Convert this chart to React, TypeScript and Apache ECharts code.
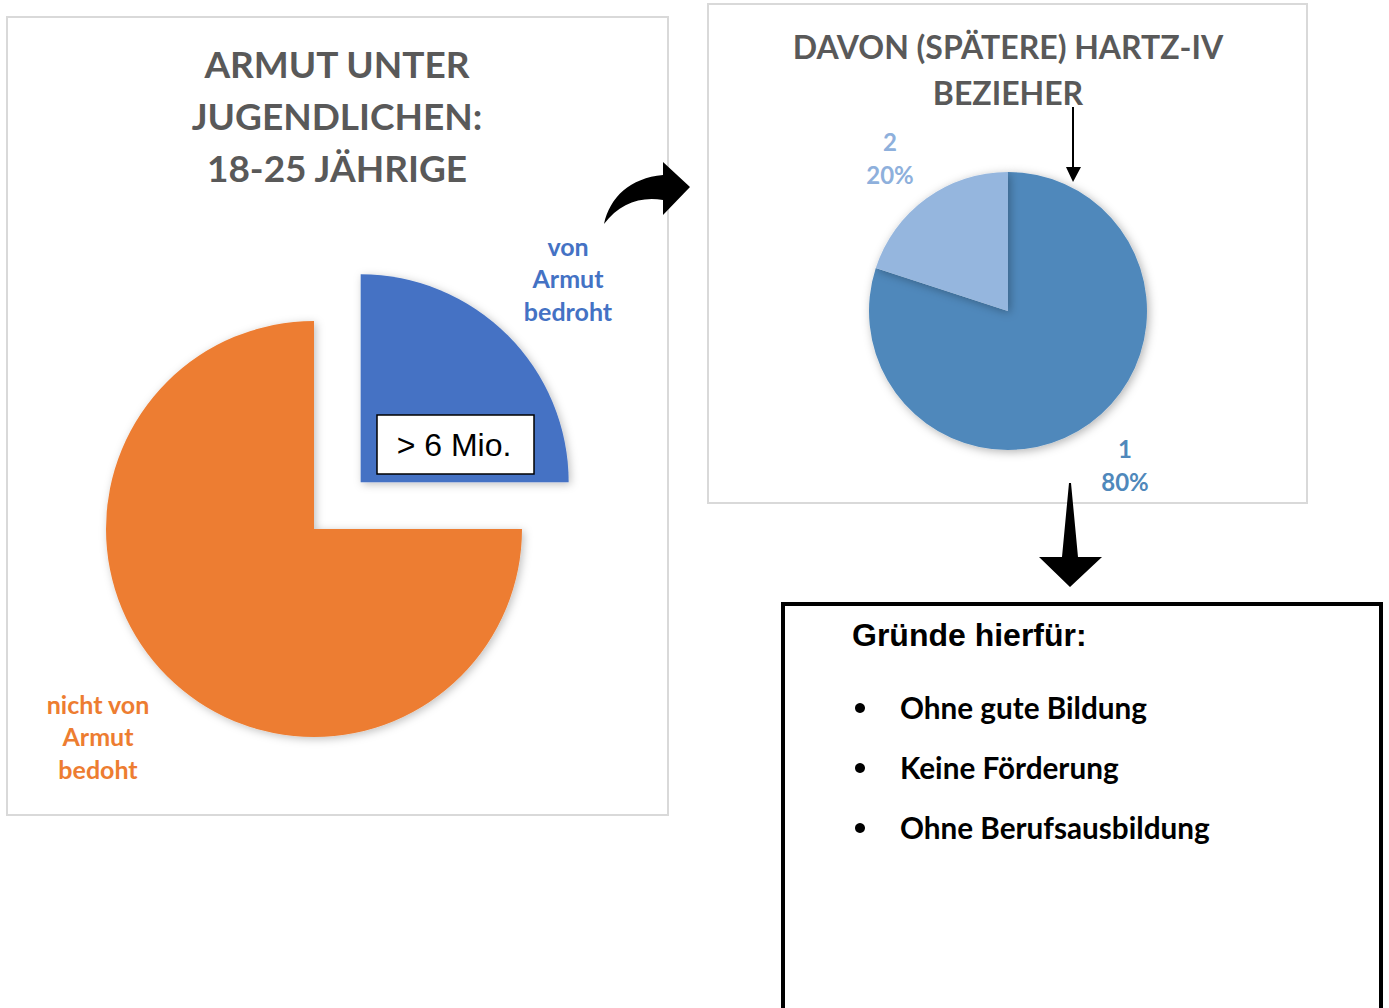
import React, { useEffect, useRef } from "react";
import * as echarts from "echarts";

// ---- data ----
const leftTitle = ["ARMUT UNTER", "JUGENDLICHEN:", "18-25 JÄHRIGE"];
const leftCategories = ["von\nArmut\nbedroht", "nicht von\nArmut\nbedoht"];
const leftValues = [25, 75];
const leftColors = ["#4472C4", "#ED7D31"];
const leftCallout = "> 6 Mio.";

const rightTitle = ["DAVON (SPÄTERE) HARTZ-IV", "BEZIEHER"];
const rightCategories = ["1", "2"];
const rightValues = [80, 20];
const rightColors = ["#4F88BB", "#95B6DE"];
const rightLabelColors = ["#4F88BB", "#8EB0DC"];

const reasonsTitle = "Gründe hierfür:";
const reasons = ["Ohne gute Bildung", "Keine Förderung", "Ohne Berufsausbildung"];

const curvedArrowPath =
  "M 604 224 C 610 197, 630 178, 663 175 L 663 162 L 690 187 L 663 215 L 663 200 C 640 196, 619 204, 604 224 Z";

let registered = false;
function registerShapes() {
  if (registered) return;
  echarts.graphic.registerShape("curvedArrow", echarts.graphic.extendPath(curvedArrowPath, {}) as any);
  registered = true;
}

export default function App() {
  const ref = useRef<HTMLDivElement>(null);
  useEffect(() => {
    document.body.style.margin = "0";
    registerShapes();
    const chart = echarts.init(ref.current!, null, { renderer: "svg" });

    const labelFont = "Lato";
    const leftCenter = [314, 529];
    const explode = 66;
    const leftTotal = leftValues.reduce((a, b) => a + b, 0);
    const midRad = ((90 - (leftValues[0] / leftTotal) * 180) * Math.PI) / 180;
    const explodedCenter = [leftCenter[0] + explode * Math.cos(midRad), leftCenter[1] - explode * Math.sin(midRad)];

    const leftLabelPos = [
      { x: 568, y: 278 },
      { x: 98, y: 736 },
    ];
    const rightLabelPos = [
      { x: 1125, y: 465 },
      { x: 890, y: 158 },
    ];

    const graphics: any[] = [
      // panels
      { type: "rect", shape: { x: 7, y: 17, width: 661, height: 798 }, style: { fill: "none", stroke: "#D9D9D9", lineWidth: 2 }, z: 0 },
      { type: "rect", shape: { x: 708, y: 4, width: 599, height: 499 }, style: { fill: "none", stroke: "#D9D9D9", lineWidth: 2 }, z: 0 },
      // titles
      ...leftTitle.map((t, i) => ({
        type: "text",
        x: 337,
        y: 63 + i * 52,
        style: { text: t, fill: "#595959", font: `bold 37px ${labelFont}`, align: "center", verticalAlign: "middle" },
      })),
      ...rightTitle.map((t, i) => ({
        type: "text",
        x: 1008,
        y: 46 + i * 46,
        style: { text: t, fill: "#595959", font: `bold 32px ${labelFont}`, align: "center", verticalAlign: "middle" },
      })),
      // callout box
      { type: "rect", shape: { x: 377, y: 415, width: 157, height: 59 }, style: { fill: "#fff", stroke: "#000", lineWidth: 1.5 }, z: 20 },
      {
        type: "text",
        x: 454,
        y: 445,
        z: 21,
        style: { text: leftCallout, fill: "#000", font: "32px 'Liberation Sans', Arial, sans-serif", align: "center", verticalAlign: "middle" },
      },
      // curved arrow
      { type: "curvedArrow", x: 0, y: 0, scaleX: 1, scaleY: 1, style: { fill: "#000" }, z: 20 },
      // thin arrow
      { type: "line", shape: { x1: 1073, y1: 107, x2: 1073, y2: 168 }, style: { stroke: "#000", lineWidth: 2 }, z: 20 },
      { type: "polygon", shape: { points: [[1066, 167], [1081, 167], [1073, 182]] }, style: { fill: "#000" }, z: 20 },
      // big down arrow
      {
        type: "polygon",
        shape: { points: [[1069, 483], [1071, 483], [1078, 557], [1102, 557], [1070, 587], [1039, 557], [1062, 557]] },
        style: { fill: "#000" },
        z: 20,
      },
      // reasons box
      { type: "rect", shape: { x: 783, y: 604, width: 598, height: 440 }, style: { fill: "#fff", stroke: "#000", lineWidth: 4 }, z: 10 },
      {
        type: "text",
        x: 852,
        y: 635,
        z: 11,
        style: { text: reasonsTitle, fill: "#000", font: "bold 32px 'Liberation Sans', Arial, sans-serif", align: "left", verticalAlign: "middle" },
      },
      ...reasons.flatMap((r, i) => [
        { type: "circle", shape: { cx: 860, cy: 708 + i * 60, r: 5 }, style: { fill: "#000" }, z: 11 },
        {
          type: "text",
          x: 900,
          y: 707 + i * 60,
          z: 11,
          style: { text: r, fill: "#000", font: `bold 29.7px ${labelFont}`, align: "left", verticalAlign: "middle" },
        },
      ]),
    ];

    const leftLabel = {
      show: true,
      position: "outside",
      formatter: "{b}",
      fontFamily: labelFont,
      fontWeight: "bold",
      fontSize: 25,
      lineHeight: 32.5,
      align: "center",
    };
    const leftLayout = (p: any) => ({
      x: leftLabelPos[p.dataIndex].x,
      y: leftLabelPos[p.dataIndex].y,
      align: "center",
      verticalAlign: "middle",
    });

    // one series per visible slice so the "von Armut bedroht" slice can be pulled out
    const leftSeries = [0, 1].map((visibleIdx) => ({
      type: "pie",
      center: visibleIdx === 0 ? explodedCenter : leftCenter,
      radius: 208,
      startAngle: 90,
      clockwise: true,
      silent: true,
      avoidLabelOverlap: false,
      z: 5,
      data: leftCategories.map((name, i) => ({
        name,
        value: leftValues[i],
        itemStyle:
          i === visibleIdx
            ? { color: leftColors[i], shadowBlur: 8, shadowColor: "rgba(0,0,0,0.25)", shadowOffsetX: 2, shadowOffsetY: 2 }
            : { color: "rgba(0,0,0,0)" },
        label: i === visibleIdx ? { ...leftLabel, color: leftColors[i] } : { show: false },
      })),
      labelLine: { show: false },
      labelLayout: leftLayout,
    }));

    chart.setOption({
      animation: false,
      backgroundColor: "#ffffff",
      graphic: graphics,
      series: [
        ...leftSeries,
        {
          type: "pie",
          center: [1008, 311],
          radius: 139,
          startAngle: 90,
          clockwise: true,
          silent: true,
          avoidLabelOverlap: false,
          z: 5,
          data: rightCategories.map((name, i) => ({
            name,
            value: rightValues[i],
            itemStyle: { color: rightColors[i] },
            label: { color: rightLabelColors[i] },
          })),
          itemStyle: { shadowBlur: 10, shadowColor: "rgba(0,0,0,0.3)", shadowOffsetX: 2, shadowOffsetY: 2 },
          label: {
            show: true,
            position: "outside",
            formatter: "{b}\n{d}%",
            fontFamily: labelFont,
            fontWeight: "bold",
            fontSize: 24,
            lineHeight: 33,
            align: "center",
          },
          labelLine: { show: false },
          labelLayout: (p: any) => ({
            x: rightLabelPos[p.dataIndex].x,
            y: rightLabelPos[p.dataIndex].y,
            align: "center",
            verticalAlign: "middle",
          }),
        },
      ],
    });
    return () => chart.dispose();
  }, []);
  return <div ref={ref} style={{ width: 1389, height: 1008 }} />;
}
